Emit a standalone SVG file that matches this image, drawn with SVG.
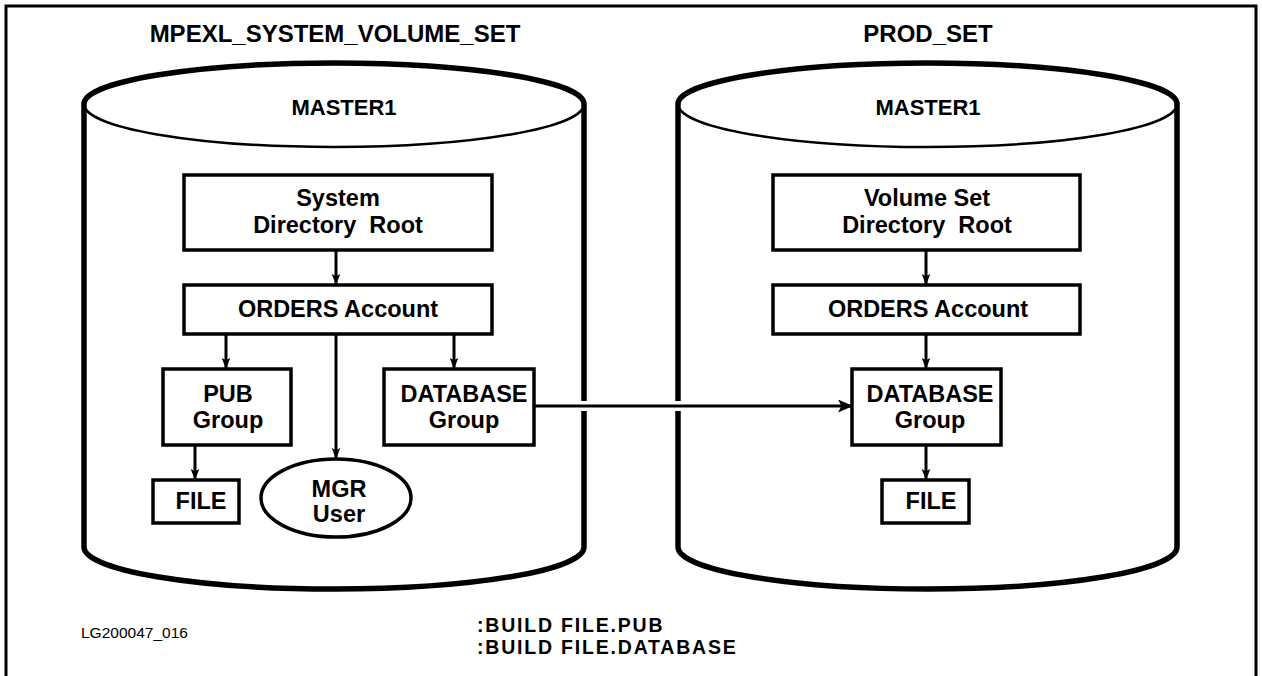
<svg xmlns="http://www.w3.org/2000/svg" width="1262" height="676" viewBox="0 0 1262 676">
<defs>
<marker id="ah" markerWidth="11" markerHeight="14" refX="14" refY="5.5" orient="auto" markerUnits="userSpaceOnUse" viewBox="0 0 14 11">
<path d="M0,0 L14,5.5 L0,11 L3,5.5 Z" fill="#000"/>
</marker>
<marker id="ahb" markerWidth="15" markerHeight="13" refX="15" refY="6.5" orient="auto" markerUnits="userSpaceOnUse" viewBox="0 0 15 13">
<path d="M0,0 L15,6.5 L0,13 L3.5,6.5 Z" fill="#000"/>
</marker>
</defs>
<style>
text{font-family:"Liberation Sans",Arial,sans-serif;font-weight:bold;fill:#000;text-anchor:middle}
.box{fill:#fff;stroke:#000;stroke-width:3.5}
.t{font-size:23.5px}
.m{font-size:22px}
.cyl{fill:none;stroke:#000;stroke-width:5.5}
.cylthin{fill:none;stroke:#000;stroke-width:2.5}
.edge{fill:none;stroke:#000;stroke-width:3}
.title{font-size:24px}
.cmd{font-size:19.5px;text-anchor:start;letter-spacing:1.8px}
</style>
<rect x="0" y="0" width="1262" height="676" fill="#fff"/>
<path d="M6,680 L6,6 L1256,6 L1256,680" fill="none" stroke="#000" stroke-width="3"/>

<g id="left-volume-set">
<text class="title" x="335" y="42">MPEXL_SYSTEM_VOLUME_SET</text>
<path class="cyl" d="M84,104 A250,41 0 0 1 584,104 L584,547 A250,42 0 0 1 84,547 Z"/>
<path class="cylthin" d="M84,104 A250,43 0 0 0 584,104"/>
<text class="m" x="344" y="115">MASTER1</text>
</g>

<g id="right-volume-set">
<text class="title" x="928" y="42">PROD_SET</text>
<path class="cyl" d="M678,104 A249.5,41 0 0 1 1177,104 L1177,547 A249.5,42 0 0 1 678,547 Z"/>
<path class="cylthin" d="M678,104 A249.5,43 0 0 0 1177,104"/>
<text class="m" x="928" y="115">MASTER1</text>
</g>

<g id="connectors">
<line class="edge" x1="336" y1="250" x2="336" y2="285" marker-end="url(#ah)"/>
<line class="edge" x1="226" y1="334" x2="226" y2="369" marker-end="url(#ah)"/>
<line class="edge" x1="336" y1="334" x2="336" y2="459" marker-end="url(#ah)"/>
<line class="edge" x1="454" y1="334" x2="454" y2="369" marker-end="url(#ah)"/>
<line class="edge" x1="195" y1="445" x2="195" y2="480" marker-end="url(#ah)"/>
<line class="edge" x1="926" y1="250" x2="926" y2="285" marker-end="url(#ah)"/>
<line class="edge" x1="926" y1="334" x2="926" y2="369" marker-end="url(#ah)"/>
<line class="edge" x1="926" y1="445" x2="926" y2="480" marker-end="url(#ah)"/>
<line x1="540" y1="406" x2="845" y2="406" stroke="#fff" stroke-width="10"/>
<line class="edge" x1="534" y1="406" x2="853" y2="406" marker-end="url(#ahb)"/>
</g>

<g id="sys-root">
<rect class="box" x="184" y="175" width="308" height="75"/>
<text class="t" x="338" y="206">System</text>
<text class="t" x="338" y="233" xml:space="preserve">Directory  Root</text>
</g>
<g id="orders-left">
<rect class="box" x="184" y="285" width="308" height="49"/>
<text class="t" x="338" y="317">ORDERS Account</text>
</g>
<g id="pub-group">
<rect class="box" x="163" y="369" width="128" height="76"/>
<text class="t" x="228" y="402">PUB</text>
<text class="t" x="228" y="428">Group</text>
</g>
<g id="db-group-left">
<rect class="box" x="384" y="369" width="150" height="76"/>
<text class="t" x="464" y="402">DATABASE</text>
<text class="t" x="464" y="428">Group</text>
</g>
<g id="file-left">
<rect class="box" x="153" y="480" width="86" height="43"/>
<text class="t" x="201" y="509">FILE</text>
</g>
<g id="mgr-user">
<ellipse cx="336" cy="498" rx="75" ry="39" fill="#fff" stroke="#000" stroke-width="3.5"/>
<text class="t" x="339" y="497">MGR</text>
<text class="t" x="339" y="522">User</text>
</g>

<g id="vs-root">
<rect class="box" x="773" y="175" width="307" height="75"/>
<text class="t" x="927" y="206">Volume Set</text>
<text class="t" x="927" y="233" xml:space="preserve">Directory  Root</text>
</g>
<g id="orders-right">
<rect class="box" x="773" y="285" width="307" height="49"/>
<text class="t" x="928" y="317">ORDERS Account</text>
</g>
<g id="db-group-right">
<rect class="box" x="852" y="369" width="149" height="76"/>
<text class="t" x="930" y="402">DATABASE</text>
<text class="t" x="930" y="428">Group</text>
</g>
<g id="file-right">
<rect class="box" x="882" y="480" width="87" height="43"/>
<text class="t" x="931" y="509">FILE</text>
</g>

<g id="notes">
<text x="81" y="638" style="font-size:15.5px;font-weight:normal;text-anchor:start">LG200047_016</text>
<text class="cmd" x="477" y="632">:BUILD FILE.PUB</text>
<text class="cmd" x="477" y="654">:BUILD FILE.DATABASE</text>
</g>
</svg>
